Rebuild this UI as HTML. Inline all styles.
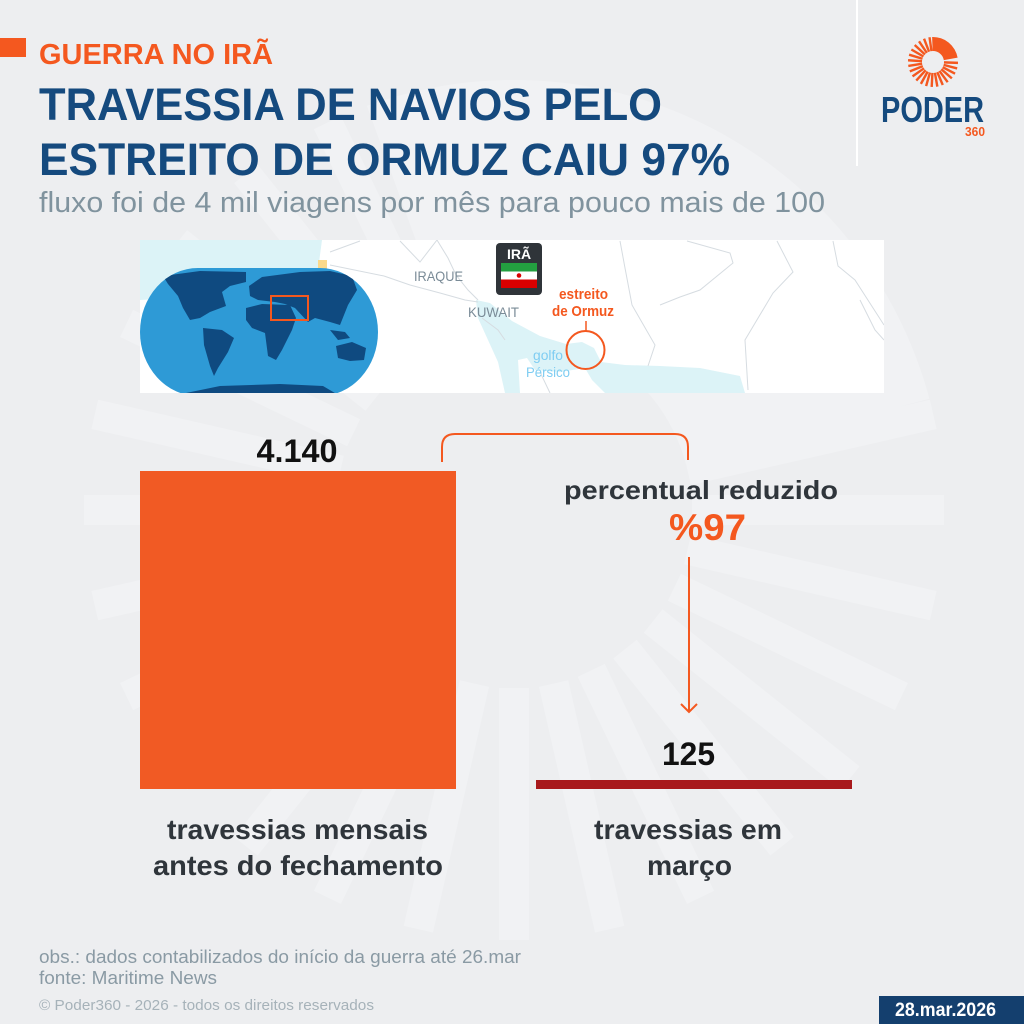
<!DOCTYPE html>
<html>
<head>
<meta charset="utf-8">
<style>
html,body{margin:0;padding:0;background:#edeef0;width:1024px;height:1024px;overflow:hidden;}
svg{display:block;font-family:"Liberation Sans",Arial,sans-serif;}
</style>
</head>
<body>
<svg width="1024" height="1024" viewBox="0 0 1024 1024" xmlns="http://www.w3.org/2000/svg">
<defs>
<clipPath id="mapclip"><rect x="140" y="240" width="744" height="153"/></clipPath>
<clipPath id="globeclip"><rect x="140" y="268" width="238" height="128" rx="58" ry="64"/></clipPath>
</defs>

<!-- background -->
<rect width="1024" height="1024" fill="#edeef0"/>
<g fill="#f1f2f4">
<path d="M366.9,105.9 A430,430 0 0 1 929.4,398.7 L685.9,463.9 A178,178 0 0 0 453.1,342.7 Z"/>
<rect x="692" y="495" width="252" height="30" transform="rotate(0 514 510)"/>
<rect x="692" y="495" width="252" height="30" transform="rotate(12.857 514 510)"/>
<rect x="692" y="495" width="252" height="30" transform="rotate(25.714 514 510)"/>
<rect x="692" y="495" width="252" height="30" transform="rotate(38.571 514 510)"/>
<rect x="692" y="495" width="252" height="30" transform="rotate(51.429 514 510)"/>
<rect x="692" y="495" width="252" height="30" transform="rotate(64.286 514 510)"/>
<rect x="692" y="495" width="252" height="30" transform="rotate(77.143 514 510)"/>
<rect x="692" y="495" width="252" height="30" transform="rotate(90 514 510)"/>
<rect x="692" y="495" width="252" height="30" transform="rotate(102.857 514 510)"/>
<rect x="692" y="495" width="252" height="30" transform="rotate(115.714 514 510)"/>
<rect x="692" y="495" width="252" height="30" transform="rotate(128.571 514 510)"/>
<rect x="692" y="495" width="252" height="30" transform="rotate(141.429 514 510)"/>
<rect x="692" y="495" width="252" height="30" transform="rotate(154.286 514 510)"/>
<rect x="692" y="495" width="252" height="30" transform="rotate(167.143 514 510)"/>
<rect x="692" y="495" width="252" height="30" transform="rotate(180 514 510)"/>
<rect x="692" y="495" width="252" height="30" transform="rotate(192.857 514 510)"/>
<rect x="692" y="495" width="252" height="30" transform="rotate(205.714 514 510)"/>
<rect x="692" y="495" width="252" height="30" transform="rotate(218.571 514 510)"/>
<rect x="692" y="495" width="252" height="30" transform="rotate(231.429 514 510)"/>
<rect x="692" y="495" width="252" height="30" transform="rotate(244.286 514 510)"/>
<rect x="692" y="495" width="252" height="30" transform="rotate(347.143 514 510)"/>
</g>

<!-- header -->
<rect x="0" y="38" width="26" height="19" fill="#f4581f"/>
<text x="39" y="64" font-size="29" font-weight="bold" fill="#f4581f" textLength="234" lengthAdjust="spacingAndGlyphs">GUERRA NO IRÃ</text>
<text x="39" y="120" font-size="45" font-weight="bold" fill="#154a7e" textLength="623" lengthAdjust="spacingAndGlyphs">TRAVESSIA DE NAVIOS PELO</text>
<text x="39" y="175" font-size="45" font-weight="bold" fill="#154a7e" textLength="691" lengthAdjust="spacingAndGlyphs">ESTREITO DE ORMUZ CAIU 97%</text>
<text x="39" y="212" font-size="29" fill="#80939e" textLength="786" lengthAdjust="spacingAndGlyphs">fluxo foi de 4 mil viagens por mês para pouco mais de 100</text>

<!-- logo -->
<rect x="856" y="0" width="2" height="166" fill="#ffffff"/>
<g fill="#f4581f">
<path d="M932.13,37.02 A25,25 0 0 1 957.62,57.66 L943.83,60.09 A11,11 0 0 0 932.62,51.01 Z"/>
<rect x="944" y="60.8" width="14" height="2.4" transform="rotate(2 933 62)"/>
<rect x="944" y="60.8" width="14" height="2.4" transform="rotate(15 933 62)"/>
<rect x="944" y="60.8" width="14" height="2.4" transform="rotate(28 933 62)"/>
<rect x="944" y="60.8" width="14" height="2.4" transform="rotate(41 933 62)"/>
<rect x="944" y="60.8" width="14" height="2.4" transform="rotate(54 933 62)"/>
<rect x="944" y="60.8" width="14" height="2.4" transform="rotate(67 933 62)"/>
<rect x="944" y="60.8" width="14" height="2.4" transform="rotate(80 933 62)"/>
<rect x="944" y="60.8" width="14" height="2.4" transform="rotate(93 933 62)"/>
<rect x="944" y="60.8" width="14" height="2.4" transform="rotate(106 933 62)"/>
<rect x="944" y="60.8" width="14" height="2.4" transform="rotate(119 933 62)"/>
<rect x="944" y="60.8" width="14" height="2.4" transform="rotate(132 933 62)"/>
<rect x="944" y="60.8" width="14" height="2.4" transform="rotate(145 933 62)"/>
<rect x="944" y="60.8" width="14" height="2.4" transform="rotate(158 933 62)"/>
<rect x="944" y="60.8" width="14" height="2.4" transform="rotate(171 933 62)"/>
<rect x="944" y="60.8" width="14" height="2.4" transform="rotate(184 933 62)"/>
<rect x="944" y="60.8" width="14" height="2.4" transform="rotate(197 933 62)"/>
<rect x="944" y="60.8" width="14" height="2.4" transform="rotate(210 933 62)"/>
<rect x="944" y="60.8" width="14" height="2.4" transform="rotate(223 933 62)"/>
<rect x="944" y="60.8" width="14" height="2.4" transform="rotate(236 933 62)"/>
<rect x="944" y="60.8" width="14" height="2.4" transform="rotate(249 933 62)"/>
<rect x="944" y="60.8" width="14" height="2.4" transform="rotate(262 933 62)"/>
</g>
<text x="881" y="122" font-size="36" font-weight="bold" fill="#154a7e" textLength="103" lengthAdjust="spacingAndGlyphs">PODER</text>
<text x="965" y="136" font-size="13" font-weight="bold" fill="#f4581f" textLength="20" lengthAdjust="spacingAndGlyphs">360</text>

<!-- map -->
<rect x="140" y="240" width="744" height="153" fill="#ffffff"/>
<g clip-path="url(#mapclip)">
<path d="M140,240 L322,240 L320,255 L318,270 L300,290 L140,300 Z" fill="#dcf3f7"/>
<rect x="318" y="260" width="9" height="9" fill="#fbd98a"/>
<path d="M476,300 L490,303 L512,321 L540,336 L566,344 L582,342 L594,348 L601,362 L625,365 L660,366 L700,368 L740,376 L745,393 L605,393 L592,380 L585,368 L560,372 L535,370 L527,358 L518,360 L520,393 L505,393 L498,362 L488,340 L478,318 Z" fill="#dcf3f7"/>
<g fill="none" stroke="#d6dce1" stroke-width="1">
<polyline points="437,240 448,258 456,275 468,290 478,300"/>
<polyline points="384,276 410,285 440,293 465,300 478,302"/>
<polyline points="482,318 498,330 505,340"/>
<polyline points="620,241 625,268 632,305 655,345 648,366"/>
<polyline points="777,241 793,272 773,293 745,340 748,390"/>
<polyline points="833,241 838,266 855,280 884,325"/>
<polyline points="687,241 730,253 733,263 700,290 680,297 660,305"/>
<polyline points="540,372 550,393"/>
<polyline points="330,252 360,241"/>
<polyline points="330,265 384,276"/>
<polyline points="860,300 875,330 884,340"/>
<polyline points="400,241 420,262 437,240"/>
</g>
<!-- globe -->
<rect x="140" y="268" width="238" height="128" rx="58" ry="64" fill="#2e9ad6"/>
<g clip-path="url(#globeclip)" fill="#0f4a80">
<path d="M163,276 L200,271 L246,272 L246,282 L230,286 L222,292 L226,306 L210,312 L200,318 L190,320 L183,308 L178,296 L168,284 Z"/>
<path d="M203,328 L222,330 L234,338 L228,352 L218,368 L214,376 L210,366 L204,345 Z"/>
<path d="M249,286 L262,277 L300,272 L330,271 L352,276 L357,290 L348,305 L340,325 L330,322 L315,318 L308,322 L295,308 L285,304 L275,302 L258,300 L250,296 Z"/>
<path d="M246,308 L262,304 L290,305 L296,318 L292,330 L282,350 L276,360 L268,356 L265,333 L252,328 L246,320 Z"/>
<path d="M336,346 L352,342 L366,348 L364,360 L350,361 L338,358 Z"/>
<path d="M330,330 L345,332 L350,338 L338,340 Z"/>
<path d="M186,393 L220,386 L280,384 L323,386 L340,396 L180,396 Z"/>
</g>
<rect x="271" y="296" width="37" height="24" fill="none" stroke="#f4581f" stroke-width="2"/>
</g>
<text x="414" y="281" font-size="14" fill="#7a8b97" textLength="49" lengthAdjust="spacingAndGlyphs">IRAQUE</text>
<text x="468" y="317" font-size="14" fill="#7a8b97" textLength="51" lengthAdjust="spacingAndGlyphs">KUWAIT</text>
<rect x="496" y="243" width="46" height="52" rx="4" fill="#2f3439"/>
<text x="519" y="259" font-size="14" font-weight="bold" fill="#ffffff" text-anchor="middle">IRÃ</text>
<rect x="501" y="263" width="36" height="8.5" fill="#239f40"/>
<rect x="501" y="271.5" width="36" height="8" fill="#ffffff"/>
<rect x="501" y="279.5" width="36" height="8.5" fill="#da0000"/>
<circle cx="519" cy="275.5" r="2.3" fill="#da0000"/>
<text x="583.5" y="299" font-size="15" font-weight="bold" fill="#f4581f" text-anchor="middle" textLength="49" lengthAdjust="spacingAndGlyphs">estreito</text>
<text x="583" y="316" font-size="15" font-weight="bold" fill="#f4581f" text-anchor="middle" textLength="62" lengthAdjust="spacingAndGlyphs">de Ormuz</text>
<line x1="586" y1="321" x2="586" y2="331" stroke="#f4581f" stroke-width="1.5"/>
<circle cx="585.5" cy="350" r="19" fill="none" stroke="#f4581f" stroke-width="2"/>
<text x="548" y="360" font-size="14" fill="#7fcdf2" text-anchor="middle" textLength="30" lengthAdjust="spacingAndGlyphs">golfo</text>
<text x="548" y="377" font-size="14" fill="#7fcdf2" text-anchor="middle" textLength="44" lengthAdjust="spacingAndGlyphs">Pérsico</text>

<!-- chart -->
<rect x="140" y="471" width="316" height="318" fill="#f15a24"/>
<rect x="536" y="780" width="316" height="9" fill="#a8191c"/>
<text x="297" y="462" font-size="32" font-weight="bold" fill="#111111" text-anchor="middle" textLength="81" lengthAdjust="spacingAndGlyphs">4.140</text>
<path d="M442,462 L442,447 Q442,434 455,434 L675,434 Q688,434 688,447 L688,460" fill="none" stroke="#f4581f" stroke-width="2"/>
<text x="564" y="499" font-size="26" font-weight="bold" fill="#2f353b" textLength="274" lengthAdjust="spacingAndGlyphs">percentual reduzido</text>
<text x="669" y="540" font-size="37" font-weight="bold" fill="#f4581f" textLength="77" lengthAdjust="spacingAndGlyphs">%97</text>
<line x1="689" y1="557" x2="689" y2="712" stroke="#f4581f" stroke-width="2"/>
<path d="M681,704 L689,712 L697,704" fill="none" stroke="#f4581f" stroke-width="2"/>
<text x="662" y="765" font-size="32" font-weight="bold" fill="#111111" textLength="53" lengthAdjust="spacingAndGlyphs">125</text>

<text x="297.5" y="839" font-size="28" font-weight="bold" fill="#2f353b" text-anchor="middle" textLength="261" lengthAdjust="spacingAndGlyphs">travessias mensais</text>
<text x="298" y="875" font-size="28" font-weight="bold" fill="#2f353b" text-anchor="middle" textLength="290" lengthAdjust="spacingAndGlyphs">antes do fechamento</text>
<text x="688" y="839" font-size="28" font-weight="bold" fill="#2f353b" text-anchor="middle" textLength="188" lengthAdjust="spacingAndGlyphs">travessias em</text>
<text x="689.5" y="875" font-size="28" font-weight="bold" fill="#2f353b" text-anchor="middle" textLength="85" lengthAdjust="spacingAndGlyphs">março</text>

<!-- footer -->
<text x="39" y="963" font-size="18" fill="#8a9aa4" textLength="482" lengthAdjust="spacingAndGlyphs">obs.: dados contabilizados do início da guerra até 26.mar</text>
<text x="39" y="984" font-size="18" fill="#8a9aa4" textLength="178" lengthAdjust="spacingAndGlyphs">fonte: Maritime News</text>
<text x="39" y="1010" font-size="15" fill="#a6b2b9" textLength="335" lengthAdjust="spacingAndGlyphs">© Poder360 - 2026 - todos os direitos reservados</text>
<rect x="879" y="996" width="145" height="28" fill="#143f6e"/>
<text x="895" y="1016" font-size="19" font-weight="bold" fill="#ffffff" textLength="101" lengthAdjust="spacingAndGlyphs">28.mar.2026</text>
</svg>
</body>
</html>
